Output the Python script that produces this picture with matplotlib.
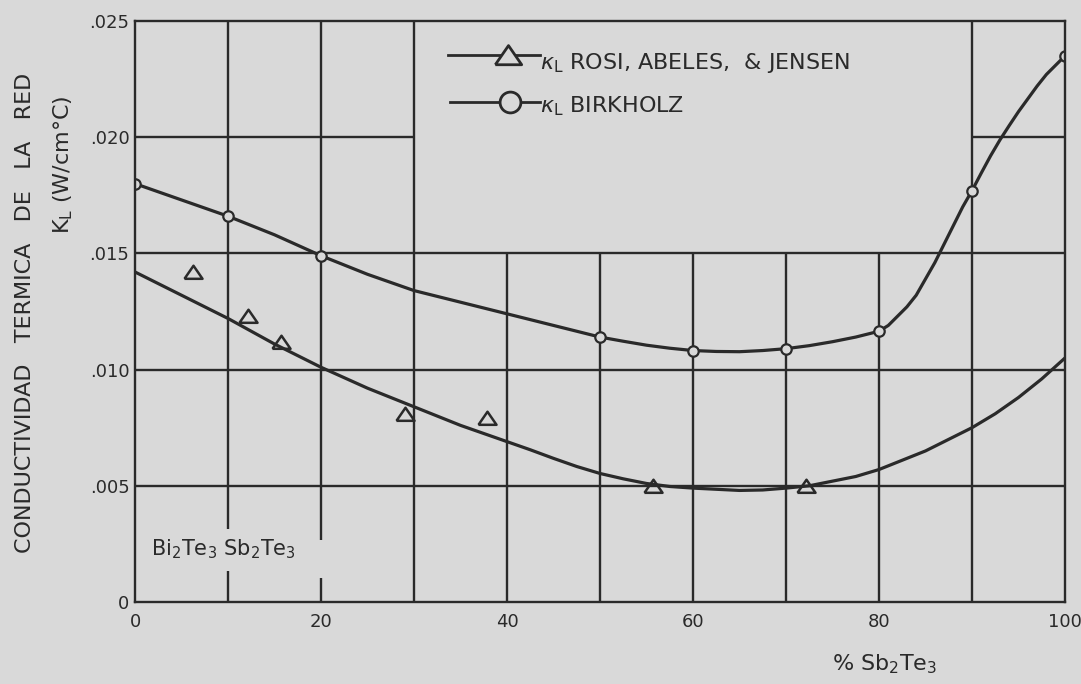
import numpy as np
import matplotlib.pyplot as plt

# measured points
birk_x = [0, 10, 20, 50, 60, 70, 80, 90, 100]
birk_y = [0.0180, 0.0166, 0.0149, 0.0114, 0.0108, 0.0109, 0.01165, 0.0177, 0.0235]

rosi_x = [6.2, 12.1, 15.7, 29.0, 37.8, 55.7, 72.1]
rosi_y = [0.0142, 0.0123, 0.0112, 0.0081, 0.0079, 0.0050, 0.0050]

# hand-drawn fitted curves, read along their length
birk_fit_x = [0, 5, 10, 15, 20, 25, 30, 35, 40, 45, 50, 52.5, 55, 57.5, 60,
              62.5, 65, 67.5, 70, 72.5, 75, 77.5, 80, 81, 82, 83, 84, 85, 86,
              87, 88, 89, 90, 91, 92, 93, 94, 95, 96, 97, 98, 99, 100]
birk_fit_y = [0.0180, 0.0173, 0.0166, 0.0158, 0.0149, 0.01410, 0.0134, 0.0129,
              0.0124, 0.0119, 0.01140, 0.01122, 0.01105, 0.01092, 0.01082,
              0.01078, 0.01077, 0.01082, 0.01090, 0.01103, 0.01120, 0.01140,
              0.01165, 0.0119, 0.0123, 0.0127, 0.0132, 0.0139, 0.0146, 0.0154,
              0.0162, 0.0170, 0.0177, 0.01846, 0.0192, 0.01988, 0.0205, 0.0211,
              0.02165, 0.0222, 0.0227, 0.0231, 0.0235]

rosi_fit_x = [0, 5, 10, 15, 20, 25, 30, 35, 40, 42.5, 45, 47.5, 50, 52.5, 55,
              57.5, 60, 62.5, 65, 67.5, 70, 72.5, 75, 77.5, 80, 82.5, 85, 87.5,
              90, 92.5, 95, 97.5, 100]
rosi_fit_y = [0.0142, 0.0132, 0.0122, 0.0111, 0.0101, 0.0092, 0.0084, 0.0076,
              0.0069, 0.00655, 0.00618, 0.00583, 0.00553, 0.0053, 0.0051,
              0.00497, 0.0049, 0.00485, 0.0048, 0.00482, 0.0049, 0.0050, 0.0052,
              0.0054, 0.0057, 0.0061, 0.0065, 0.0070, 0.0075, 0.0081, 0.0088,
              0.0096, 0.0105]

x_ticks = [0, 20, 40, 60, 80, 100]
y_ticks = [0, 0.005, 0.010, 0.015, 0.020, 0.025]
y_tick_labels = ["0", ".005", ".010", ".015", ".020", ".025"]

bg = "#d9d9d9"
ink = "#2a2a2a"
plt.rcParams["font.family"] = ["DejaVu Sans"]

fig = plt.figure(figsize=(10.81, 6.84), dpi=100, facecolor=bg)
ax = fig.add_axes([0.1249, 0.1199, 0.8603, 0.8494], facecolor=bg)
ax.set_xlim(0, 100)
ax.set_ylim(0, 0.025)

# grid, with the blank panel for the key and the gap around the formula
gw = 1.7
ax.vlines([30, 90], 0, 0.025, color=ink, lw=gw)
ax.vlines(10, 0, 0.00133, color=ink, lw=gw)
ax.vlines(10, 0.00314, 0.025, color=ink, lw=gw)
ax.vlines(20, 0, 0.00105, color=ink, lw=gw)
ax.vlines(20, 0.00268, 0.025, color=ink, lw=gw)
ax.vlines([40, 50, 60, 70, 80], 0, 0.015, color=ink, lw=gw)
ax.hlines([0.005, 0.010, 0.015], 0, 100, color=ink, lw=gw)
ax.hlines(0.020, 0, 30, color=ink, lw=gw)
ax.hlines(0.020, 90, 100, color=ink, lw=gw)
for s in ax.spines.values():
    s.set_color(ink)
    s.set_linewidth(gw)

# curves and points
ax.plot(birk_fit_x, birk_fit_y, color=ink, lw=2.3, solid_joinstyle="round")
ax.plot(rosi_fit_x, rosi_fit_y, color=ink, lw=2.3, solid_joinstyle="round")
ax.plot(birk_x, birk_y, "o", ms=7.5, mfc=bg, mec=ink, mew=1.6)
tri = [(-1, -0.7), (1, -0.7), (0, 0.75), (-1, -0.7)]
ax.plot(rosi_x, rosi_y, ls="none", marker=tri, ms=13, mfc="none", mec=ink, mew=1.8)

ax.set_xticks(x_ticks)
ax.set_yticks(y_ticks)
ax.set_yticklabels(y_tick_labels)
ax.tick_params(axis="both", length=0, labelsize=13, colors=ink)
ax.tick_params(axis="x", pad=8)
ax.tick_params(axis="y", pad=4)

# key
tr = ax.transAxes
ax.plot([0.3366, 0.4355], [0.9415, 0.9415], color=ink, lw=2, transform=tr)
ax.plot([0.401], [0.9415], ls="none", marker=tri, ms=19, mfc=bg, mec=ink,
        mew=2, transform=tr)
ax.plot([0.3387, 0.4355], [0.8613, 0.8613], color=ink, lw=2, transform=tr)
ax.plot([0.4032], [0.8613], "o", ms=15, mfc=bg, mec=ink, mew=2, transform=tr)
ax.text(0.4355, 0.9174, r"$\kappa_\mathrm{L}$ ROSI, ABELES,  & JENSEN",
        transform=tr, fontsize=16, color=ink, va="baseline", ha="left")
ax.text(0.4355, 0.8434, r"$\kappa_\mathrm{L}$ BIRKHOLZ",
        transform=tr, fontsize=16, color=ink, va="baseline", ha="left")

ax.text(1.7, 0.00202, r"Bi$_2$Te$_3$ Sb$_2$Te$_3$", fontsize=15, color=ink,
        va="baseline", ha="left")

# axis titles
fig.text(0.0231, 0.542, "CONDUCTIVIDAD   TERMICA   DE   LA   RED", rotation=90,
         fontsize=16, color=ink, ha="center", va="center")
fig.text(0.0587, 0.759, r"K$_\mathrm{L}$ (W/cm°C)", rotation=90,
         fontsize=16, color=ink, ha="center", va="center")
fig.text(0.8187, 0.029, r"% Sb$_2$Te$_3$", fontsize=16, color=ink,
         ha="center", va="center")

fig.savefig("out.png", dpi=100, facecolor=bg)
